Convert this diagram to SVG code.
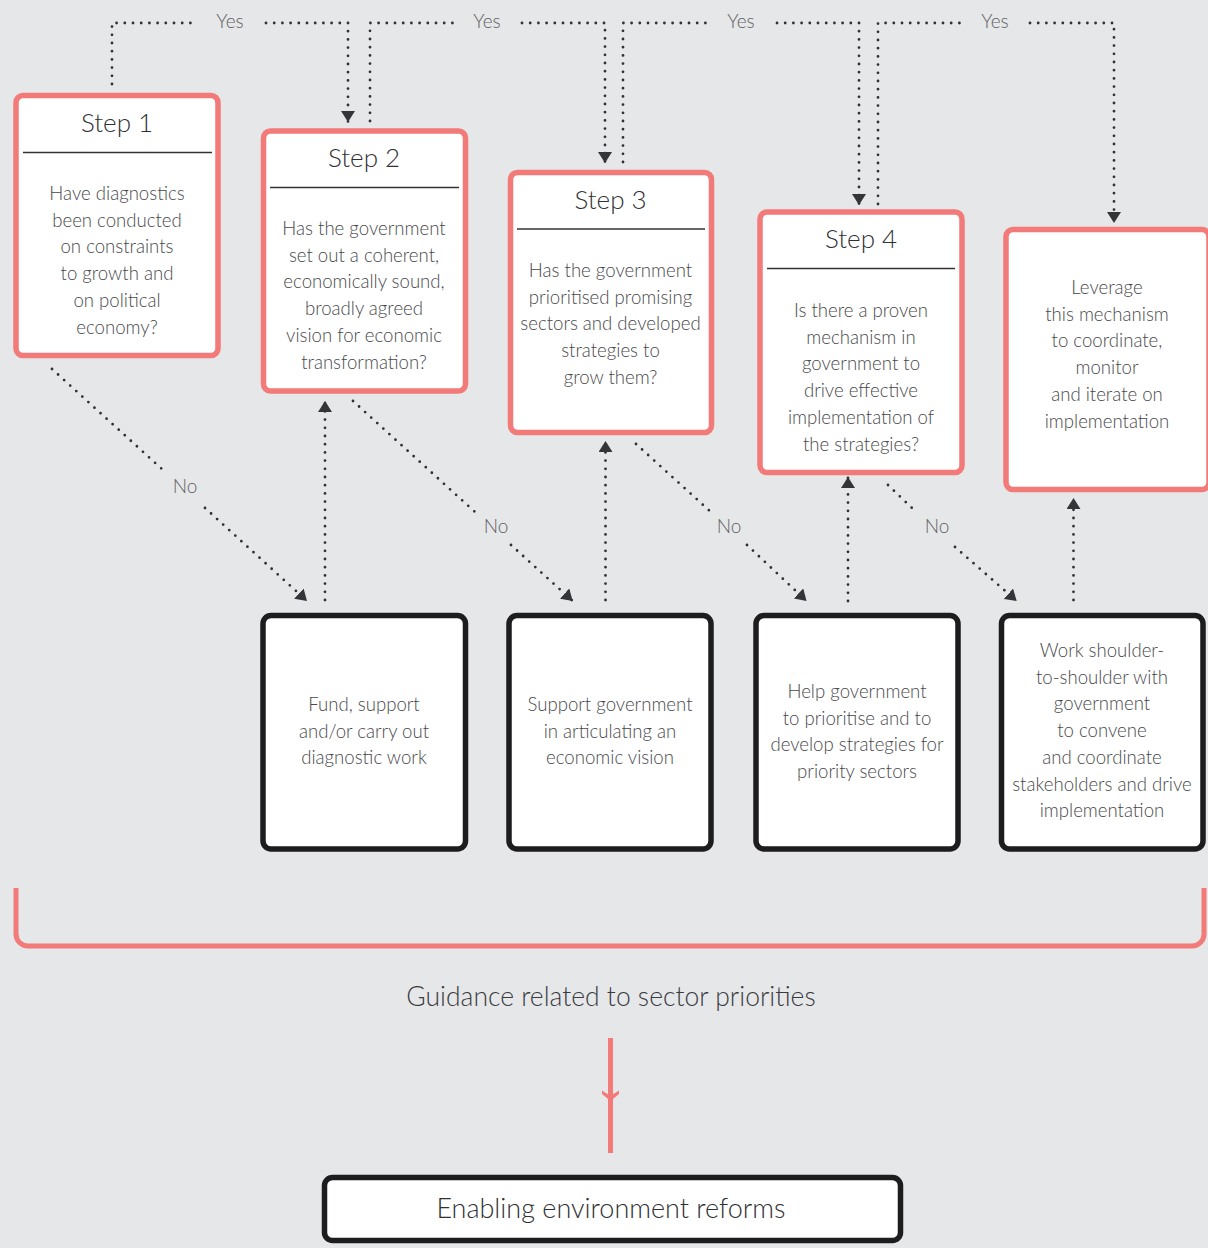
<svg xmlns="http://www.w3.org/2000/svg" width="1208" height="1248" viewBox="0 0 1208 1248">
<defs>
<marker id="ah" viewBox="0 0 11 14" refX="11" refY="7" markerWidth="11" markerHeight="14" markerUnits="userSpaceOnUse" orient="auto">
<path d="M0,0 L11,7 L0,14 Z" fill="#333538"/>
</marker>
<style>
.step{fill:#fff;stroke:#f27a78;stroke-width:5.5}
.act{fill:#fff;stroke:#1d1d1f;stroke-width:5.5}
.div{stroke:#333;stroke-width:1.5}
.t{font-family:Lato,"Open Sans","Liberation Sans",sans-serif;font-weight:300;fill:#48484b;text-anchor:middle}
.title{font-size:26px;fill:#2f3033}
.body{font-size:18.6px}
.lbl{font-size:19px;fill:#5f5f62}
.dot{fill:none;stroke:#2f3134;stroke-width:2.8;stroke-linecap:round;stroke-dasharray:0 8.2}
</style>
</defs>
<rect width="1208" height="1248" fill="#e6e7e9"/>

<g id="connectors">
<path class="dot" d="M112,84 V23 H194"/>
<path class="dot" d="M266,23 H348 V122" marker-end="url(#ah)"/>
<path class="dot" d="M370,121 V23 H453"/>
<path class="dot" d="M522,23 H605 V163" marker-end="url(#ah)"/>
<path class="dot" d="M623,162 V23 H706"/>
<path class="dot" d="M777,23 H859 V205" marker-end="url(#ah)"/>
<path class="dot" d="M878,204 V23 H961"/>
<path class="dot" d="M1030,23 H1114 V223" marker-end="url(#ah)"/>

<path class="dot" d="M325,600 V401" marker-end="url(#ah)"/>
<path class="dot" d="M605.5,600 V441" marker-end="url(#ah)"/>
<path class="dot" d="M848,601 V477" marker-end="url(#ah)"/>
<path class="dot" d="M1073.5,600 V498" marker-end="url(#ah)"/>

<path class="dot" d="M52,369 L163,470"/>
<path class="dot" d="M205,508 L307,601" marker-end="url(#ah)"/>
<path class="dot" d="M353,401 L475,512"/>
<path class="dot" d="M511,545 L572.7,601" marker-end="url(#ah)"/>
<path class="dot" d="M636,444 L712,513"/>
<path class="dot" d="M747,545 L806.5,601" marker-end="url(#ah)"/>
<path class="dot" d="M888,485 L913,509"/>
<path class="dot" d="M955,547 L1016.7,601" marker-end="url(#ah)"/>

<g class="t lbl">
<text x="230" y="28">Yes</text>
<text x="487" y="28">Yes</text>
<text x="741" y="28">Yes</text>
<text x="995" y="28">Yes</text>
<text x="185" y="493">No</text>
<text x="496" y="533">No</text>
<text x="729" y="533">No</text>
<text x="937" y="533">No</text>
</g>

<path d="M16,888 V934 A12,12 0 0 0 28,946 H1192 A12,12 0 0 0 1204,934 V888" fill="none" stroke="#f27a78" stroke-width="5"/>
<path d="M610.5,1038 V1153" fill="none" stroke="#f27a78" stroke-width="5"/>
<path d="M602,1090.5 L610.5,1096 L619,1090.5 L619,1094 L610.5,1101 L602,1094 Z" fill="#f27a78"/>
</g>

<g id="step1">
<rect class="step" x="16" y="95.5" width="202" height="260" rx="7"/>
<line class="div" x1="23" y1="152.5" x2="212" y2="152.5"/>
<text class="t title" x="117" y="131.5">Step 1</text>
<text class="t body" x="117" y="200">Have diagnostics</text>
<text class="t body" x="117" y="226.7">been conducted</text>
<text class="t body" x="117" y="253.4">on constraints</text>
<text class="t body" x="117" y="280.1">to growth and</text>
<text class="t body" x="117" y="306.8">on political</text>
<text class="t body" x="117" y="333.5">economy?</text>
</g>

<g id="step2">
<rect class="step" x="263.5" y="131" width="202" height="260" rx="7"/>
<line class="div" x1="270" y1="187.5" x2="459" y2="187.5"/>
<text class="t title" x="364" y="167">Step 2</text>
<text class="t body" x="364" y="235">Has the government</text>
<text class="t body" x="364" y="261.7">set out a coherent,</text>
<text class="t body" x="364" y="288.4">economically sound,</text>
<text class="t body" x="364" y="315.1">broadly agreed</text>
<text class="t body" x="364" y="341.8">vision for economic</text>
<text class="t body" x="364" y="368.5">transformation?</text>
</g>

<g id="step3">
<rect class="step" x="510.5" y="172.5" width="201" height="260" rx="7"/>
<line class="div" x1="517" y1="229" x2="705" y2="229"/>
<text class="t title" x="610.5" y="208.5">Step 3</text>
<text class="t body" x="610.5" y="277">Has the government</text>
<text class="t body" x="610.5" y="303.7">prioritised promising</text>
<text class="t body" x="610.5" y="330.4">sectors and developed</text>
<text class="t body" x="610.5" y="357.1">strategies to</text>
<text class="t body" x="610.5" y="383.8">grow them?</text>
</g>

<g id="step4">
<rect class="step" x="760" y="212" width="202" height="260.5" rx="7"/>
<line class="div" x1="767" y1="268.5" x2="955" y2="268.5"/>
<text class="t title" x="861" y="248">Step 4</text>
<text class="t body" x="861" y="317">Is there a proven</text>
<text class="t body" x="861" y="343.7">mechanism in</text>
<text class="t body" x="861" y="370.4">government to</text>
<text class="t body" x="861" y="397.1">drive effective</text>
<text class="t body" x="861" y="423.8">implementation of</text>
<text class="t body" x="861" y="450.5">the strategies?</text>
</g>

<g id="leverage">
<rect class="step" x="1006" y="229.5" width="203" height="260" rx="7"/>
<text class="t body" x="1107" y="294">Leverage</text>
<text class="t body" x="1107" y="320.7">this mechanism</text>
<text class="t body" x="1107" y="347.4">to coordinate,</text>
<text class="t body" x="1107" y="374.1">monitor</text>
<text class="t body" x="1107" y="400.8">and iterate on</text>
<text class="t body" x="1107" y="427.5">implementation</text>
</g>

<g id="actionA">
<rect class="act" x="263" y="615.5" width="202.5" height="233.5" rx="8"/>
<text class="t body" x="364" y="711">Fund, support</text>
<text class="t body" x="364" y="737.7">and/or carry out</text>
<text class="t body" x="364" y="764.4">diagnostic work</text>
</g>

<g id="actionB">
<rect class="act" x="509" y="615.5" width="202" height="233.5" rx="8"/>
<text class="t body" x="610" y="711">Support government</text>
<text class="t body" x="610" y="737.7">in articulating an</text>
<text class="t body" x="610" y="764.4">economic vision</text>
</g>

<g id="actionC">
<rect class="act" x="756" y="615.5" width="202" height="233.5" rx="8"/>
<text class="t body" x="857" y="698">Help government</text>
<text class="t body" x="857" y="724.7">to prioritise and to</text>
<text class="t body" x="857" y="751.4">develop strategies for</text>
<text class="t body" x="857" y="778.1">priority sectors</text>
</g>

<g id="actionD">
<rect class="act" x="1001.5" y="615.5" width="201.5" height="233.5" rx="8"/>
<text class="t body" x="1102" y="657">Work shoulder-</text>
<text class="t body" x="1102" y="683.7">to-shoulder with</text>
<text class="t body" x="1102" y="710.4">government</text>
<text class="t body" x="1102" y="737.1">to convene</text>
<text class="t body" x="1102" y="763.8">and coordinate</text>
<text class="t body" x="1102" y="790.5">stakeholders and drive</text>
<text class="t body" x="1102" y="817.2">implementation</text>
</g>

<g id="guidance">
<text class="t" x="611" y="1006" style="font-size:26.5px;fill:#3a3b3e">Guidance related to sector priorities</text>
</g>

<g id="enabling">
<rect class="act" x="324.5" y="1177.5" width="576" height="63" rx="8"/>
<text class="t" x="611" y="1218" style="font-size:27px;fill:#2f3033">Enabling environment reforms</text>
</g>
</svg>
